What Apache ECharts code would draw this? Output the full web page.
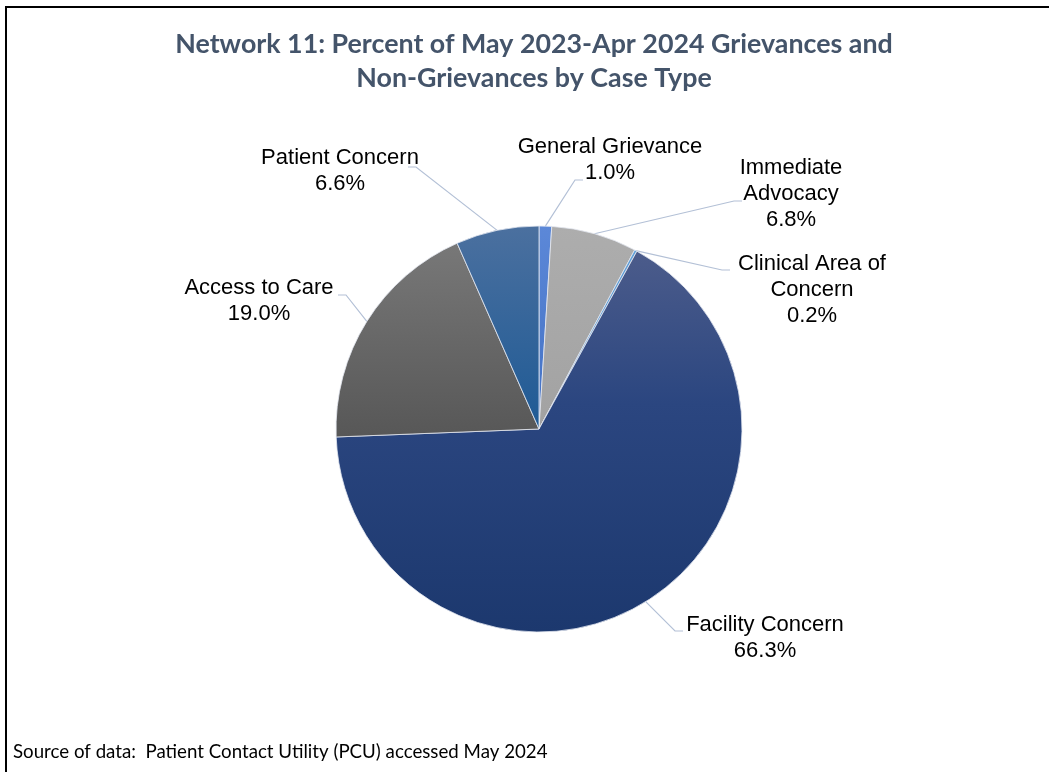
<!DOCTYPE html>
<html>
<head>
<meta charset="utf-8">
<script src="https://cdn.jsdelivr.net/npm/echarts@6/dist/echarts.min.js"></script>
<style>
  html, body { margin: 0; padding: 0; background: #fff; }
  #chart { position: absolute; left: 0; top: 0; width: 1049px; height: 772px; }
  #frame { position: absolute; left: 5px; top: 6px; right: 0; bottom: 0;
           border-top: 2px solid #000; border-left: 2px solid #000; pointer-events: none; }
</style>
</head>
<body>
<div id="chart"></div>
<div id="frame"></div>
<script>
// Case types, clockwise from 12 o'clock
const caseTypes = ['General Grievance', 'Immediate Advocacy', 'Clinical Area of Concern',
                   'Facility Concern', 'Access to Care', 'Patient Concern'];
// Share of all cases, in percent
const percentShares = [1.0, 6.8, 0.2, 66.3, 19.0, 6.6];
// How each label name breaks into lines
const labelLines = [['General Grievance'], ['Immediate', 'Advocacy'], ['Clinical Area of', 'Concern'],
                    ['Facility Concern'], ['Access to Care'], ['Patient Concern']];

const titleLines = ['Network 11: Percent of May 2023-Apr 2024 Grievances and',
                    'Non-Grievances by Case Type'];
const sourceNote = 'Source of data:  Patient Contact Utility (PCU) accessed May 2024';

// Vertical gradient stops for each slice
const sliceShades = [
  [[0, '#5C88D8'], [1, '#4270C3']],
  [[0, '#ADADAD'], [1, '#A2A2A2']],
  [[0, '#62A0D8'], [1, '#5494CE']],
  [[0, '#4C5C8B'], [0.4, '#2B4680'], [1, '#1C386E']],
  [[0, '#787878'], [1, '#575757']],
  [[0, '#4B709F'], [1, '#1E5A95']]
];

// Where each callout sits: label centre and the end of its leader line
const calloutSpots = [
  { x: 610, y: 160, end: [583, 180], side: -1 },
  { x: 791, y: 194, end: [742, 201], side: -1 },
  { x: 812, y: 290, end: [730, 270], side: -1 },
  { x: 765, y: 638, end: [683, 631], side: -1 },
  { x: 259, y: 301, end: [338, 295], side: 1 },
  { x: 340, y: 171, end: [408, 167], side: 1 }
];

const chart = echarts.init(document.getElementById('chart'), null, { renderer: 'canvas' });

const pieData = caseTypes.map((name, i) => ({
  name: name,
  value: percentShares[i],
  itemStyle: {
    color: new echarts.graphic.LinearGradient(0, 0, 0, 1,
      sliceShades[i].map(s => ({ offset: s[0], color: s[1] })))
  }
}));

const titleFont = 'bold 26.8px Lato';

const option = {
  animation: false,
  backgroundColor: '#ffffff',
  graphic: [
    {
      type: 'text', x: 534, y: 44,
      style: { text: titleLines[0], font: titleFont, fill: '#44546A',
               textAlign: 'center', textVerticalAlign: 'middle' }
    },
    {
      type: 'text', x: 534, y: 78,
      style: { text: titleLines[1], font: titleFont, fill: '#44546A',
               textAlign: 'center', textVerticalAlign: 'middle' }
    },
    {
      type: 'text', x: 13, y: 752,
      style: { text: sourceNote, font: '18.7px Lato', fill: '#000000',
               textAlign: 'left', textVerticalAlign: 'middle' }
    }
  ],
  series: [{
    type: 'pie',
    center: [539, 429],
    radius: 203,
    startAngle: 90,
    clockwise: true,
    avoidLabelOverlap: false,
    itemStyle: { borderColor: '#E4E9F1', borderWidth: 0.8 },
    emphasis: { disabled: true },
    label: {
      show: true,
      position: 'outside',
      formatter: function (p) {
        const rows = labelLines[p.dataIndex].map(t => '{n|' + t + '}');
        rows.push('{n|' + p.value.toFixed(1) + '%}');
        return rows.join('\n');
      },
      rich: {
        n: { fontFamily: 'Liberation Sans', fontSize: 22, lineHeight: 26, color: '#000', align: 'center' }
      }
    },
    labelLine: {
      show: true,
      length: 20,
      length2: 10,
      lineStyle: { color: '#B3C0D6', width: 1.2 }
    },
    labelLayout: function (p) {
      const s = calloutSpots[p.dataIndex];
      const start = p.labelLinePoints && p.labelLinePoints[0];
      const out = { x: s.x, y: s.y, align: 'center', verticalAlign: 'middle' };
      if (start) {
        out.labelLinePoints = [start, [s.end[0] + s.side * 8, s.end[1]], s.end];
      }
      return out;
    },
    data: pieData
  }]
};

chart.setOption(option);
</script>
</body>
</html>
